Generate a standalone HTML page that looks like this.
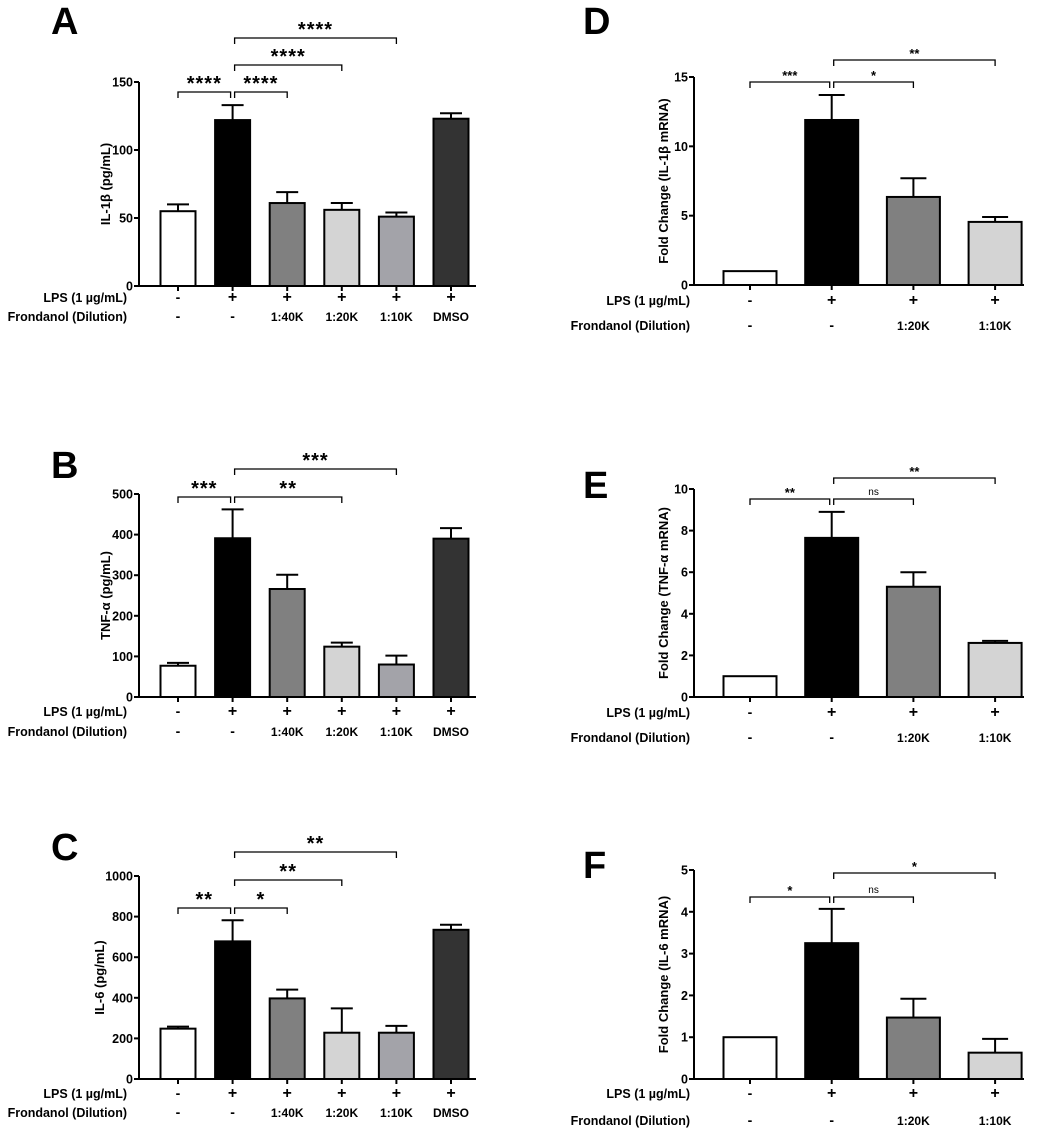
<!DOCTYPE html>
<html><head><meta charset="utf-8"><style>
body{margin:0;background:#fff}
svg{display:block;font-family:"Liberation Sans",Arial,sans-serif;font-weight:bold}
</style></head><body>
<svg id="fig" width="1052" height="1130" viewBox="0 0 1052 1130" xmlns="http://www.w3.org/2000/svg"></svg>
<script>
// Data arrays
const aValues=[55,122,61,56,51,123];
const aErrors=[60,133,69,61,54,127];
const bValues=[77,391,266,124,80,390];
const bErrors=[84,462,301,134,102,416];
const cValues=[248,678,397,228,228,735];
const cErrors=[258,782,440,348,262,760];
const dValues=[1,11.9,6.35,4.55];
const dErrors=[1,13.7,7.7,4.9];
const eValues=[1,7.65,5.3,2.6];
const eErrors=[1,8.9,6.0,2.7];
const fValues=[1,3.25,1.47,0.63];
const fErrors=[1,4.07,1.92,0.96];
const leftLps=["-","+","+","+","+","+"];
const leftDil=["-","-","1:40K","1:20K","1:10K","DMSO"];
const rightLps=["-","+","+","+"];
const rightDil=["-","-","1:20K","1:10K"];
const aTicks=[0,50,100,150];
const bTicks=[0,100,200,300,400,500];
const cTicks=[0,200,400,600,800,1000];
const dTicks=[0,5,10,15];
const eTicks=[0,2,4,6,8,10];
const fTicks=[0,1,2,3,4,5];

const NS="http://www.w3.org/2000/svg";
const svg=document.getElementById('fig');
function mk(tag,attrs,parent,text){
  const e=document.createElementNS(NS,tag);
  for(const k in attrs)e.setAttribute(k,attrs[k]);
  if(text!==undefined)e.textContent=text;
  (parent||svg).appendChild(e);return e;
}
const leftColors=["#ffffff","#000000","#808080","#d4d4d4","#a3a3a9","#333333"];
const rightColors=["#ffffff","#000000","#808080","#d4d4d4"];

function panel(p){
  const g=mk('g',{});
  
  
  const y=v=>p.base-(v/p.max)*p.h;
  const x=i=>p.x0+i*p.step;
  const L=mk('text',{x:p.letterX,y:p.letterY,'font-size':38},g,p.id);
  
  
  p.values.forEach((v,i)=>{
    const cx=x(i);
    const r=mk('rect',{x:cx-p.bw/2,y:y(v),width:p.bw,height:p.base-y(v),fill:p.colors[i],stroke:'#000','stroke-width':2},g);
    
    
    const ey=y(p.errors[i]);
    if(p.errors[i]>v){
      const e=mk('path',{d:`M${cx},${y(v)}V${ey}M${cx-p.cap/2},${ey}H${cx+p.cap/2}`,stroke:'#000','stroke-width':2,fill:'none'},g);
      
      
    }
  });
  const ax=mk('path',{d:`M${p.ax},${y(p.ticks[p.ticks.length-1])}V${p.base}H${p.axEnd}`,stroke:'#000','stroke-width':2,fill:'none'},g);
  
  
  p.ticks.forEach(t=>{
    mk('line',{x1:p.ax-5,x2:p.ax,y1:y(t),y2:y(t),stroke:'#000','stroke-width':2},g);
    const tl=mk('text',{x:p.ax-6,y:y(t)+4.5,'font-size':12.5,'text-anchor':'end'},g,t);
    
    
  });
  p.values.forEach((v,i)=>mk('line',{x1:x(i),x2:x(i),y1:p.base,y2:p.base+5,stroke:'#000','stroke-width':2},g));
  const yt=mk('text',{transform:`translate(${p.titleX},${p.base-p.h/2}) rotate(-90)`,'font-size':13,'text-anchor':'middle'},g,p.title);
  
  
  const r1=mk('text',{x:p.rowLabelX,y:p.row1,'font-size':12.5,'text-anchor':'end'},g,'LPS (1 µg/mL)');
  
  
  const r2=mk('text',{x:p.rowLabelX,y:p.row2,'font-size':12.5,'text-anchor':'end'},g,'Frondanol (Dilution)');
  
  
  p.lps.forEach((s,i)=>{
    const t=mk('text',{x:x(i),y:p.row1,'font-size':s==='+'?16:14,'text-anchor':'middle'},g,s);
    
    
  });
  p.dil.forEach((s,i)=>{
    const t=mk('text',{x:x(i),y:p.row2,'font-size':s.length>1?12:14,'text-anchor':'middle'},g,s);
    
    
  });
  p.brackets.forEach(b=>{
    const x1=x(b[0])+(b[0]===1?2:0), x2=x(b[1])-(b[1]===1?2:0);
    const bp=mk('path',{d:`M${x1},${b[2]+6}V${b[2]}H${x2}V${b[2]+6}`,stroke:'#000','stroke-width':1.3,fill:'none'},g);
    
    
    const isNs=b[3]==='ns';
    const st=mk('text',{x:(x1+x2)/2,y:b[2]-(isNs?4:2),'font-size':isNs?10:p.starSize,'font-weight':isNs?'normal':'bold','text-anchor':'middle','letter-spacing':isNs?0:p.starSpace},g,b[3]);
    
    
  });
}
const L={x0:178,step:54.6,bw:35,cap:22,ax:139,axEnd:476,titleX:110,rowLabelX:127,letterX:51,colors:leftColors,lps:leftLps,dil:leftDil,starSize:20,starSpace:1};
const R={x0:750,step:81.7,bw:53,cap:26,ax:694,axEnd:1024,titleX:668,rowLabelX:690,letterX:583,colors:rightColors,lps:rightLps,dil:rightDil,starSize:13,starSpace:0};
panel(Object.assign({},L,{id:'A',base:286,h:204,max:150,ticks:aTicks,values:aValues,errors:aErrors,title:'IL-1β (pg/mL)',letterY:34,row1:302,row2:321,
  brackets:[[0,1,92,'****'],[1,2,92,'****'],[1,3,65,'****'],[1,4,38,'****']]}));
panel(Object.assign({},L,{id:'B',base:697,h:203,max:500,ticks:bTicks,values:bValues,errors:bErrors,title:'TNF-α (pg/mL)',letterY:478,row1:716,row2:736,
  brackets:[[0,1,497,'***'],[1,3,497,'**'],[1,4,469,'***']]}));
panel(Object.assign({},L,{id:'C',base:1079,h:203,max:1000,ticks:cTicks,values:cValues,errors:cErrors,title:'IL-6 (pg/mL)',letterY:860,row1:1098,row2:1117,titleX:104,
  brackets:[[0,1,908,'**'],[1,2,908,'*'],[1,3,880,'**'],[1,4,852,'**']]}));
panel(Object.assign({},R,{id:'D',base:285,h:208,max:15,ticks:dTicks,values:dValues,errors:dErrors,title:'Fold Change (IL-1β mRNA)',letterY:34,row1:305,row2:330,
  brackets:[[0,1,82,'***'],[1,2,82,'*'],[1,3,60,'**']]}));
panel(Object.assign({},R,{id:'E',base:697,h:208,max:10,ticks:eTicks,values:eValues,errors:eErrors,title:'Fold Change (TNF-α mRNA)',letterY:498,row1:717,row2:742,
  brackets:[[0,1,499,'**'],[1,2,499,'ns'],[1,3,478,'**']]}));
panel(Object.assign({},R,{id:'F',base:1079,h:209,max:5,ticks:fTicks,values:fValues,errors:fErrors,title:'Fold Change (IL-6 mRNA)',letterY:878,row1:1098,row2:1125,
  brackets:[[0,1,897,'*'],[1,2,897,'ns'],[1,3,873,'*']]}));
</script>
</body></html>
